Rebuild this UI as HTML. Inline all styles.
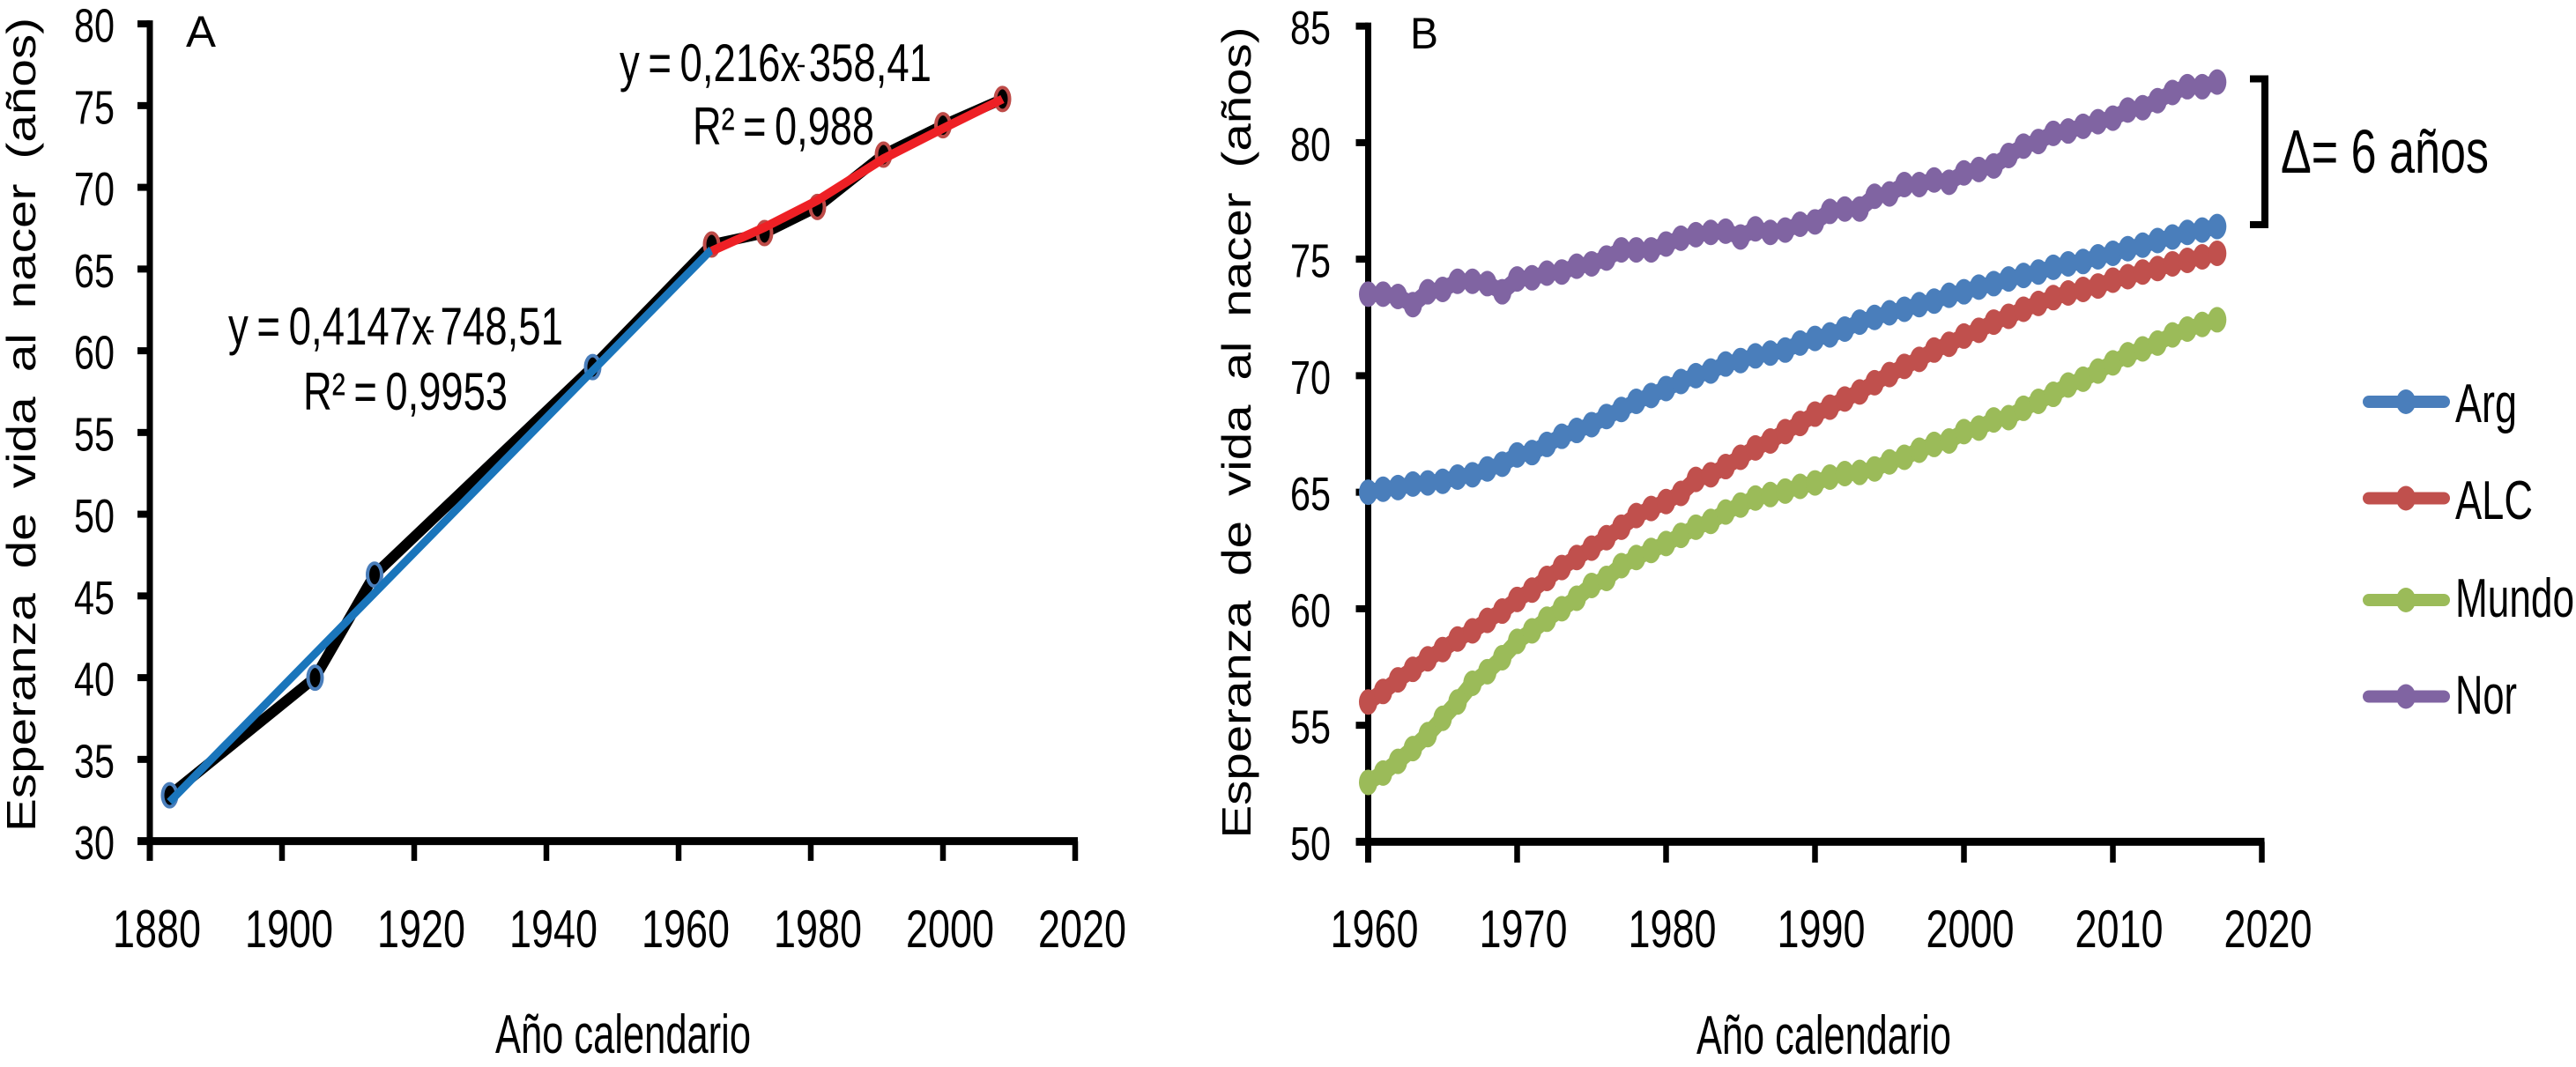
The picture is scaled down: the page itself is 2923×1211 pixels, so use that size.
<!DOCTYPE html>
<html lang="es">
<head>
<meta charset="utf-8">
<title>Esperanza de vida al nacer</title>
<style>
html,body{margin:0;padding:0;background:#fff;}
svg{display:block;}
text{font-family:"Liberation Sans",Arial,sans-serif;fill:#000;}
</style>
</head>
<body>
<svg id="chart" xmlns="http://www.w3.org/2000/svg" width="2923" height="1211" viewBox="0 0 2923 1211">
  <rect x="0" y="0" width="2923" height="1211" fill="#ffffff"/>

  <g id="panelA">
    <text x="211" y="53" font-size="50" textLength="34" lengthAdjust="spacingAndGlyphs">A</text>
    <text transform="translate(40,944) rotate(-90)" font-size="46" word-spacing="10" textLength="924" lengthAdjust="spacingAndGlyphs">Esperanza de vida al nacer (años)</text>
    <text x="562" y="1195" font-size="62" textLength="290" lengthAdjust="spacingAndGlyphs">Año calendario</text>
    <text x="703" y="92" font-size="60" word-spacing="-4" textLength="354" lengthAdjust="spacingAndGlyphs">y = 0,216x 358,41</text>
    <line x1="905" x2="913" y1="75" y2="75" stroke="#000" stroke-width="2.5"/>
    <text x="786" y="164" font-size="60" word-spacing="-4" textLength="206" lengthAdjust="spacingAndGlyphs">R² = 0,988</text>
    <text x="259" y="391" font-size="60" word-spacing="-4" textLength="380" lengthAdjust="spacingAndGlyphs">y = 0,4147x 748,51</text>
    <line x1="484" x2="492" y1="376" y2="376" stroke="#000" stroke-width="2.5"/>
    <text x="344" y="465" font-size="60" word-spacing="-4" textLength="232" lengthAdjust="spacingAndGlyphs">R² = 0,9953</text>
  </g>

  <g id="panelB">
    <text x="1600" y="55" font-size="50" textLength="32" lengthAdjust="spacingAndGlyphs">B</text>
    <text transform="translate(1419,951.5) rotate(-90)" font-size="46" word-spacing="10" textLength="921" lengthAdjust="spacingAndGlyphs">Esperanza de vida al nacer (años)</text>
    <text x="1925" y="1196" font-size="62" textLength="289" lengthAdjust="spacingAndGlyphs">Año calendario</text>
    <path d="M2553 89.5H2570V255H2553" fill="none" stroke="#000" stroke-width="8"/>
    <text x="2588" y="196" font-size="70" textLength="236" lengthAdjust="spacingAndGlyphs">Δ= 6 años</text>
  </g>

  <g id="legend">
    <g>
      <line x1="2688" x2="2773" y1="456" y2="456" stroke="#4a7ebb" stroke-width="14" stroke-linecap="round"/>
      <ellipse cx="2730" cy="456" rx="11" ry="14" fill="#4a7ebb"/>
      <text x="2786" y="479" font-size="62" textLength="70" lengthAdjust="spacingAndGlyphs">Arg</text>
    </g>
    <g>
      <line x1="2688" x2="2773" y1="565.5" y2="565.5" stroke="#c0504d" stroke-width="14" stroke-linecap="round"/>
      <ellipse cx="2730" cy="565.5" rx="11" ry="14" fill="#c0504d"/>
      <text x="2786" y="589" font-size="62" textLength="88" lengthAdjust="spacingAndGlyphs">ALC</text>
    </g>
    <g>
      <line x1="2688" x2="2773" y1="681" y2="681" stroke="#9bbb59" stroke-width="14" stroke-linecap="round"/>
      <ellipse cx="2730" cy="681" rx="11" ry="14" fill="#9bbb59"/>
      <text x="2786" y="700" font-size="62" textLength="135" lengthAdjust="spacingAndGlyphs">Mundo</text>
    </g>
    <g>
      <line x1="2688" x2="2773" y1="790.5" y2="790.5" stroke="#8064a2" stroke-width="14" stroke-linecap="round"/>
      <ellipse cx="2730" cy="790.5" rx="11" ry="14" fill="#8064a2"/>
      <text x="2786" y="810" font-size="62" textLength="70" lengthAdjust="spacingAndGlyphs">Nor</text>
    </g>
  </g>
</svg>

<script>
// Panel A data
const yearsA = [1883, 1905, 1914, 1947, 1965, 1973, 1981, 1991, 2000, 2009];
const lifeA = [32.8, 40, 46.3, 59, 66.5, 67.2, 68.8, 72, 73.8, 75.4];
const pointGroupA = ['early', 'early', 'early', 'early', 'late', 'late', 'late', 'late', 'late', 'late'];
const trendEarlyYears = [1883, 1965];
const trendEarlyValues = [32.4, 66.2];
const trendLateYears = [1965, 1973, 1981, 1991, 2000, 2009];
const trendLateValues = [66.1, 67.55, 69.2, 71.75, 73.6, 75.4];
const xTicksA = [1880, 1900, 1920, 1940, 1960, 1980, 2000, 2020];
const yTicksA = [30, 35, 40, 45, 50, 55, 60, 65, 70, 75, 80];

// Panel B data, one value per year starting in firstYearB
const firstYearB = 1960;
const arg = [65.0,65.13,65.2,65.35,65.4,65.47,65.65,65.75,66.0,66.2,66.6,66.7,67.05,67.4,67.65,67.9,68.25,68.55,68.9,69.15,69.45,69.75,70.0,70.2,70.5,70.65,70.85,70.97,71.1,71.4,71.6,71.75,72.0,72.3,72.5,72.7,72.85,73.05,73.2,73.45,73.6,73.8,73.95,74.15,74.3,74.45,74.65,74.8,74.9,75.1,75.25,75.45,75.6,75.8,75.95,76.15,76.25,76.4];
const alc = [56.0,56.45,56.95,57.4,57.85,58.25,58.7,59.05,59.5,59.9,60.4,60.8,61.3,61.77,62.2,62.6,63.05,63.5,64.0,64.3,64.6,64.95,65.55,65.75,66.1,66.5,66.9,67.2,67.6,67.95,68.35,68.65,69.0,69.3,69.7,70.05,70.4,70.7,71.1,71.35,71.7,71.95,72.3,72.55,72.85,73.1,73.35,73.55,73.7,73.85,74.1,74.25,74.45,74.6,74.8,74.95,75.1,75.25];
const mundo = [52.55,52.95,53.45,54.0,54.6,55.3,56.0,56.8,57.3,57.9,58.6,59.05,59.55,60.0,60.45,61.0,61.3,61.85,62.2,62.5,62.8,63.15,63.5,63.75,64.15,64.45,64.75,64.9,65.05,65.25,65.4,65.65,65.8,65.85,66.0,66.3,66.5,66.8,67.05,67.2,67.6,67.75,68.1,68.2,68.6,68.9,69.2,69.6,69.85,70.2,70.55,70.9,71.15,71.4,71.75,72.0,72.2,72.4];
const nor = [73.5,73.5,73.4,73.05,73.6,73.7,74.05,74.05,73.95,73.6,74.15,74.2,74.4,74.45,74.7,74.8,75.05,75.4,75.4,75.4,75.65,75.9,76.05,76.15,76.2,75.95,76.3,76.15,76.25,76.5,76.6,77.05,77.15,77.15,77.7,77.8,78.2,78.2,78.4,78.3,78.7,78.85,79.0,79.45,79.85,80.05,80.4,80.5,80.7,80.9,81.05,81.4,81.5,81.8,82.15,82.4,82.4,82.6];
const xTicksB = [1960, 1970, 1980, 1990, 2000, 2010, 2020];
const yTicksB = [50, 55, 60, 65, 70, 75, 80, 85];

const SVG_NS = 'http://www.w3.org/2000/svg';

function mk(parent, tag, attrs) {
  const el = document.createElementNS(SVG_NS, tag);
  for (const k in attrs) el.setAttribute(k, attrs[k]);
  parent.appendChild(el);
  return el;
}

function xA(v) { return 170 + (v - 1880) * 7.5; }
function yA(v) { return 954.6 - (v - 30) * 18.55; }
function xB(v) { return 1552.5 + (v - 1960) * 16.9; }
function yB(v) { return 955.4 - (v - 50) * 26.45; }

function drawAxes(parent, prefix, xFn, yFn, xTicks, yTicks, axisX, cfg) {
  const yMin = yTicks[0];
  const yMax = yTicks[yTicks.length - 1];
  const xMax = xTicks[xTicks.length - 1];

  const yAxis = mk(parent, 'line', {x1: axisX, x2: axisX, y1: yFn(yMax) - 4, y2: cfg.tickBottom, stroke: '#000', 'stroke-width': 7});
  
  

  const xAxis = mk(parent, 'line', {x1: axisX - 14, x2: xFn(xMax) + 3, y1: yFn(yMin), y2: yFn(yMin), stroke: '#000', 'stroke-width': 9});
  
  

  yTicks.forEach(function (t) {
    const tick = mk(parent, 'line', {x1: axisX - 14, x2: axisX, y1: yFn(t), y2: yFn(t), stroke: '#000', 'stroke-width': 8});
    
    

    const label = mk(parent, 'text', {x: cfg.yLabelLeft, y: yFn(t) + 20.5, 'font-size': 54, textLength: 46, lengthAdjust: 'spacingAndGlyphs'});
    label.textContent = String(t);
    
    
  });

  xTicks.forEach(function (t) {
    const tick = mk(parent, 'line', {x1: xFn(t), x2: xFn(t), y1: yFn(yMin), y2: cfg.tickBottom, stroke: '#000', 'stroke-width': 6.5});
    
    

    const label = mk(parent, 'text', {x: xFn(t) + cfg.xLabelShift - 50, y: 1075, 'font-size': 60, textLength: 100, lengthAdjust: 'spacingAndGlyphs'});
    label.textContent = String(t);
    
    
  });
}

const gA = document.getElementById('panelA');
const gB = document.getElementById('panelB');

drawAxes(gA, 'panel-a', xA, yA, xTicksA, yTicksA, 170, {tickBottom: 977, yLabelLeft: 84, xLabelShift: 8});
drawAxes(gB, 'panel-b', xB, yB, xTicksB, yTicksB, 1552.5, {tickBottom: 979, yLabelLeft: 1464, xLabelShift: 7});

// Panel A: observed series
const lineA = mk(gA, 'polyline', {
  points: yearsA.map(function (y, i) { return xA(y) + ',' + yA(lifeA[i]); }).join(' '),
  fill: 'none', stroke: '#000', 'stroke-width': 12, 'stroke-linejoin': 'round'
});



yearsA.forEach(function (y, i) {
  const dot = mk(gA, 'ellipse', {
    cx: xA(y), cy: yA(lifeA[i]), rx: 8, ry: 13, fill: '#000',
    stroke: pointGroupA[i] === 'early' ? '#4a7ebb' : '#be4b48', 'stroke-width': 4
  });
  
  
});

// Panel A: trend lines
const trendEarly = mk(gA, 'line', {
  x1: xA(trendEarlyYears[0]), y1: yA(trendEarlyValues[0]),
  x2: xA(trendEarlyYears[1]), y2: yA(trendEarlyValues[1]),
  stroke: '#1a75bb', 'stroke-width': 9
});



const trendLate = mk(gA, 'polyline', {
  points: trendLateYears.map(function (y, i) { return xA(y) + ',' + yA(trendLateValues[i]); }).join(' '),
  fill: 'none', stroke: '#ee2025', 'stroke-width': 10, 'stroke-linejoin': 'round'
});



// Panel B: series
function drawSeries(name, values, color) {
  const g = mk(gB, 'g', {});
  
  

  const line = mk(g, 'polyline', {
    points: values.map(function (v, i) { return xB(firstYearB + i) + ',' + yB(v); }).join(' '),
    fill: 'none', stroke: color, 'stroke-width': 18, 'stroke-linejoin': 'round'
  });
  
  

  values.forEach(function (v, i) {
    const dot = mk(g, 'ellipse', {cx: xB(firstYearB + i), cy: yB(v), rx: 10.5, ry: 14.5, fill: color});
    
    
  });
}

drawSeries('arg', arg, '#4a7ebb');
drawSeries('alc', alc, '#c0504d');
drawSeries('mundo', mundo, '#9bbb59');
drawSeries('nor', nor, '#8064a2');
</script>
</body>
</html>
